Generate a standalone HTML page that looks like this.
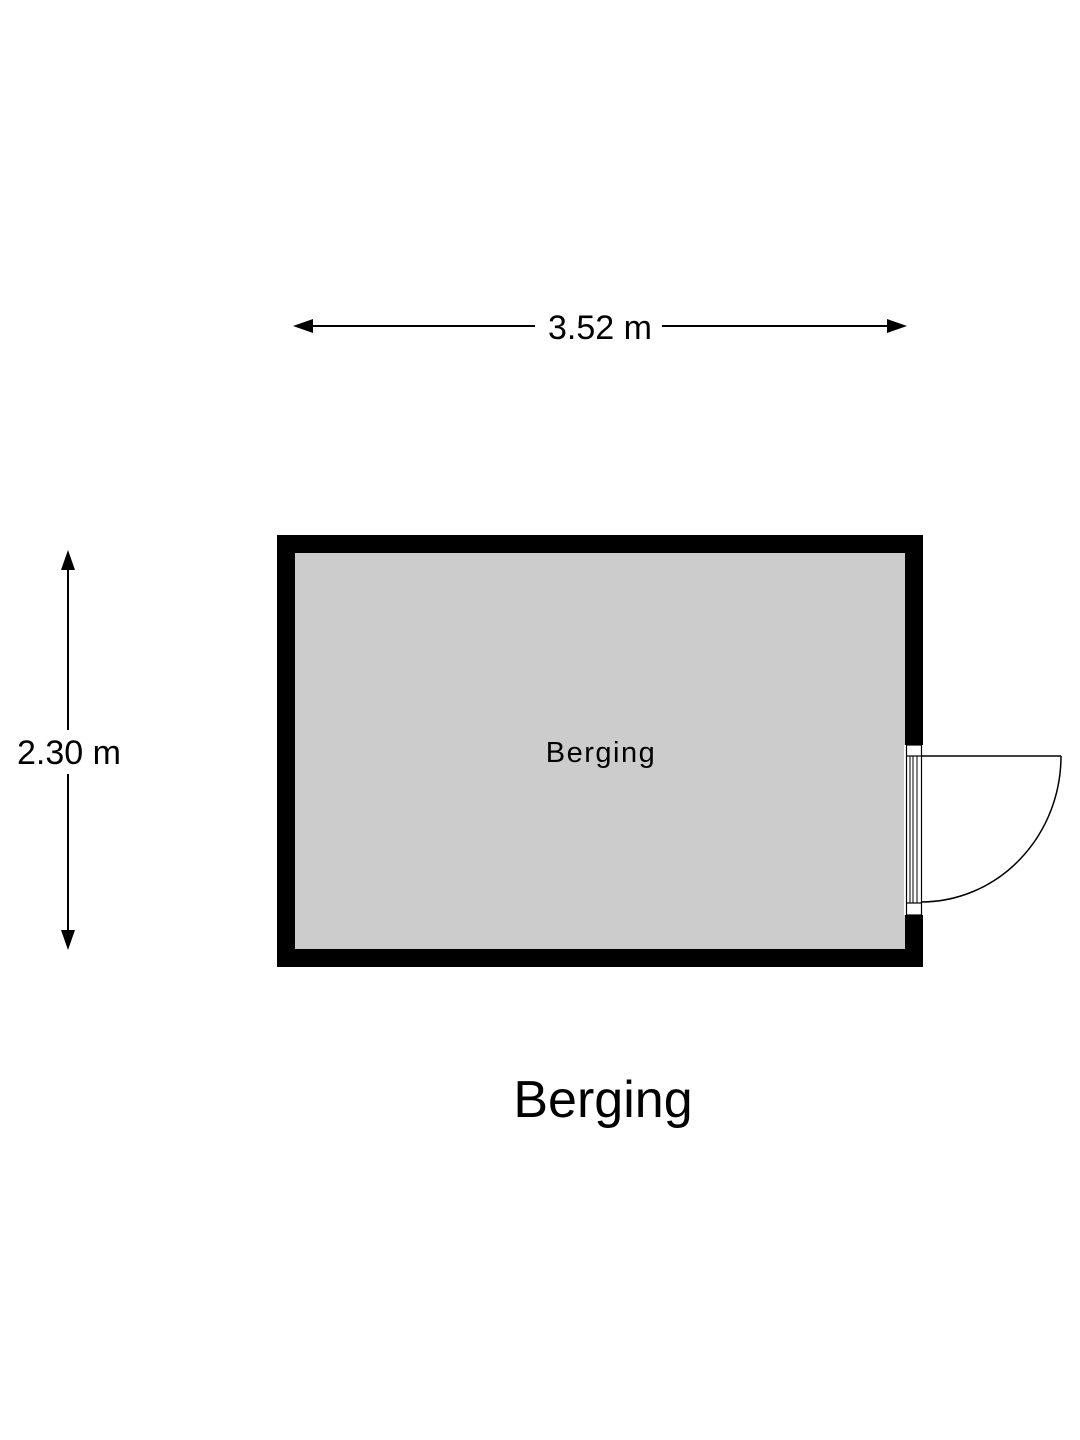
<!DOCTYPE html>
<html><head><meta charset="utf-8"><style>
html,body{margin:0;padding:0;background:#fff;}
svg{display:block;}
text{font-family:"Liberation Sans",Arial,sans-serif;fill:#000;}
</style></head><body>
<svg width="1080" height="1440" viewBox="0 0 1080 1440" xmlns="http://www.w3.org/2000/svg">
<rect width="1080" height="1440" fill="#fff"/>
<line x1="305" y1="326" x2="535" y2="326" stroke="#000" stroke-width="2"/>
<line x1="662" y1="326" x2="895" y2="326" stroke="#000" stroke-width="2"/>
<polygon points="293,326 313,319 313,333" fill="#000"/>
<polygon points="907,326 887,319 887,333" fill="#000"/>
<text x="600" y="339" font-size="34" text-anchor="middle">3.52 m</text>
<line x1="68" y1="560" x2="68" y2="730" stroke="#000" stroke-width="2"/>
<line x1="68" y1="774" x2="68" y2="940" stroke="#000" stroke-width="2"/>
<polygon points="68,550 61,570 75,570" fill="#000"/>
<polygon points="68,950 61,930 75,930" fill="#000"/>
<text x="69" y="764" font-size="34" text-anchor="middle">2.30 m</text>
<rect x="286" y="544" width="628" height="414" fill="#cccccc" stroke="#000" stroke-width="18"/>
<rect x="904" y="745" width="20" height="170" fill="#fff"/>
<rect x="906.5" y="745" width="15" height="170" fill="#fff" stroke="#000" stroke-width="1.2"/>
<line x1="906.5" y1="756" x2="921.5" y2="756" stroke="#000" stroke-width="1.2"/>
<line x1="906.5" y1="903" x2="921.5" y2="903" stroke="#000" stroke-width="1.2"/>
<line x1="910" y1="756" x2="910" y2="903" stroke="#000" stroke-width="1"/>
<line x1="913" y1="756" x2="913" y2="903" stroke="#000" stroke-width="1"/>
<line x1="917" y1="756" x2="917" y2="903" stroke="#000" stroke-width="1"/>
<line x1="921" y1="756" x2="1061" y2="756" stroke="#000" stroke-width="1.5"/>
<path d="M1061,756 A140,146 0 0 1 921,902" fill="none" stroke="#000" stroke-width="1.5"/>
<text x="601" y="762" font-size="29" text-anchor="middle" letter-spacing="1.5">Berging</text>
<text x="603" y="1117" font-size="52" text-anchor="middle">Berging</text>
</svg>
</body></html>
